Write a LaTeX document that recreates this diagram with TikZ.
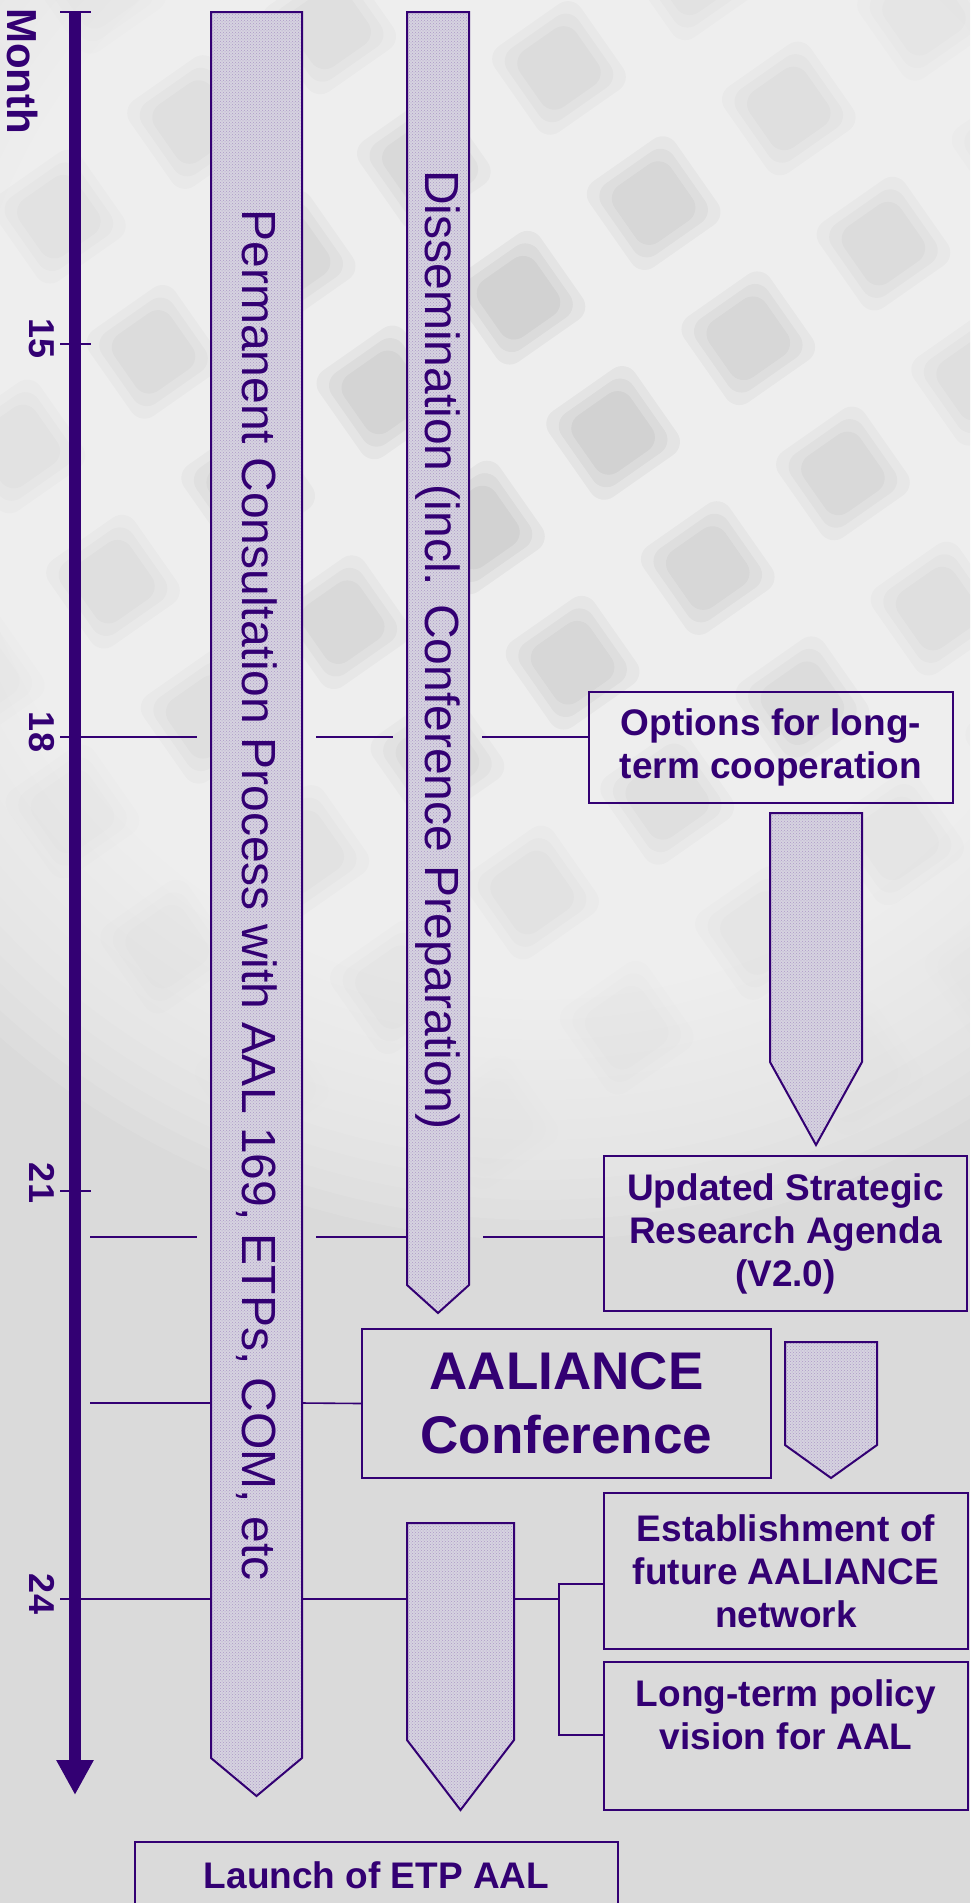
\documentclass[tikz,border=0pt]{standalone}
\usepackage{fontspec}
\setmainfont{Liberation Sans}
\usetikzlibrary{arrows.meta,positioning,calc,patterns}

\definecolor{ink}{RGB}{51,0,115}
\definecolor{bgGrey}{RGB}{218,218,218}
\definecolor{glow}{RGB}{246,246,246}
\definecolor{barFill}{RGB}{214,211,224}

\tikzset{
  link/.style={draw=ink, line width=1.6pt},
  gap/.style={shorten <=14pt, shorten >=14pt},
  box/.style={draw=ink, line width=2pt, text=ink, align=center, inner sep=0pt,
    font=\fontsize{37}{43}\selectfont\bfseries},
  barbody/.style={inner sep=0pt, outer sep=0pt},
  barshape/.style={draw=ink, line width=2pt, preaction={fill=barFill},
    pattern=crosshatch dots, pattern color=ink!40},
  bartext/.style={text=ink, rotate=-90, inner sep=0pt, font=\fontsize{48}{58}\selectfont},
  monthlbl/.style={text=ink, rotate=-90, inner sep=0pt, font=\fontsize{36}{40}\selectfont\bfseries}
}

\begin{document}
\begin{tikzpicture}[x=1pt, y=-1pt]
  \clip (0,0) rectangle (970,1903);
  \fill[bgGrey] (0,0) rectangle (970,1903);
  \foreach \r in {820,800,...,500}
    \fill[glow, opacity=.12] (540,420) circle (\r);
  \foreach \i in {-5,...,5}
    \foreach \j in {-5,...,5} {
      \pgfmathsetmacro\op{max(0, 0.045*(1-veclen(\i*165+52,\j*165+52)/760))}
      \foreach \s in {0,9,18}
        \fill[black, opacity=\op, rounded corners=16pt, shift={(540,420)}, rotate=35]
          (\i*165+\s, \j*165+\s) rectangle ++(105-2*\s,105-2*\s);
    }

  % time axis
  \coordinate (ax_top) at (75,12);
  \coordinate (ax_end) at (75,1795);
  \draw[ink, line width=12pt, -{Triangle[length=35pt, width=35pt]}] (ax_top) -- (ax_end);
  \foreach \y in {12,344,737,1191,1599}
    \draw[ink, line width=1.6pt] (60,\y) -- (91,\y);
  \node[monthlbl, font=\fontsize{42}{46}\selectfont\bfseries] (month) at (23,71) {Month};
  \foreach \m/\y in {15/339, 18/732, 21/1183, 24/1594}
    \node[monthlbl] (m_\m) at (42,\y) {\m};

  % bars
  \node[barbody, minimum width=91pt, minimum height=1746pt] (perm) at (256.5,885) {};
  \node[barbody, minimum width=62pt, minimum height=1273pt] (diss) at (438,648.5) {};
  \node[barbody, minimum width=107pt, minimum height=217pt] (fin) at (460.5,1631.5) {};
  \node[barbody, minimum width=92pt, minimum height=249pt] (opts_arr) at (816,937.5) {};
  \node[barbody, minimum width=92pt, minimum height=103pt] (conf_arr) at (831,1393.5) {};

  % boxes
  \node[box, minimum width=364pt, minimum height=111pt] (opts) at (771,747.5)
    {Options for long-\\term cooperation};
  \node[box, minimum width=363pt, minimum height=155pt] (agenda) at (785.5,1233.5)
    {Updated Strategic\\Research Agenda\\(V2.0)};
  \node[box, minimum width=409pt, minimum height=149pt,
    font=\fontsize{53}{64}\selectfont\bfseries] (conf) at (566.5,1403.5) {AALIANCE\\Conference};
  \node[box, minimum width=364pt, minimum height=156pt] (estab) at (786,1571)
    {Establishment of\\future AALIANCE\\network};
  \node[box, minimum width=364pt, minimum height=148pt, below=11pt of estab] (policy)
    {Long-term policy\\vision for AAL\\\mbox{}};
  \node[box, minimum width=483pt, minimum height=66pt] (launch) at (376.5,1875) {Launch of ETP AAL};

  \coordinate (ax_18) at (81,737);
  \coordinate (ax_21) at (90,1237);
  \coordinate (ax_conf) at (90,1403);
  \coordinate (ax_24) at (91,1599);
  \coordinate (brk) at (559,1599);
  \coordinate (brk_a) at (559,1584);
  \coordinate (brk_b) at (559,1735);

  \path[link]
    (ax_18) edge[shorten >=14pt] (ax_18 -| perm.west)
    (ax_18 -| perm.east) edge[gap] (ax_18 -| diss.west)
    (ax_18 -| diss.east) edge[shorten <=13pt] (ax_18 -| opts.west)
    (ax_21) edge[shorten >=14pt] (ax_21 -| perm.west)
    (ax_21 -| perm.east) edge[shorten <=14pt] (ax_21 -| diss.west)
    (ax_21 -| diss.east) edge[shorten <=14pt] (ax_21 -| agenda.west)
    (ax_conf) edge (ax_conf -| perm.west)
    (ax_conf -| perm.east) edge (conf.west)
    (ax_24) edge (ax_24 -| perm.west)
    (ax_24 -| perm.east) edge (ax_24 -| fin.west)
    (ax_24 -| fin.east) edge (brk);
  \draw[link] (brk_a -| estab.west) -- (brk_a) -- (brk_b) -- (brk_b -| policy.west);

  \foreach \b/\p in {perm/38, diss/28, fin/70, opts_arr/83, conf_arr/33}
    \draw[barshape] (\b.north west) -- (\b.south west) -- ($(\b.south)+(0,\p)$)
      -- (\b.south east) -- (\b.north east) -- cycle;

  \node[bartext] (perm_txt) at (256.5,895) {Permanent Consultation Process with AAL 169, ETPs, COM, etc};
  \node[bartext] (diss_txt) at (438,650) {Dissemination (incl. Conference Preparation)};
\end{tikzpicture}
\end{document}
